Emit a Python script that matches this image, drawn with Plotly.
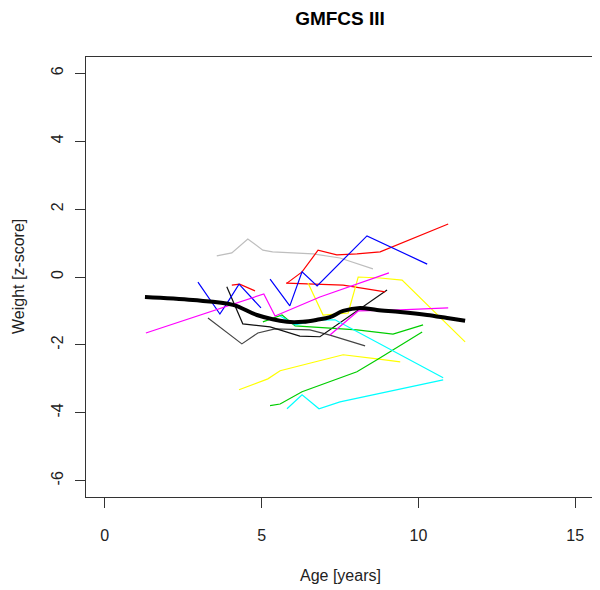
import plotly.graph_objects as go

# ---- data ----
mean_age = [1.28, 2.81, 4.09, 4.85, 5.81, 6.32, 6.77, 7.18, 7.60, 8.14, 8.68, 9.42, 10.28, 10.92, 11.49]
mean_z = [-0.59, -0.68, -0.82, -1.12, -1.32, -1.32, -1.26, -1.18, -1.00, -0.91, -0.97, -1.03, -1.12, -1.21, -1.29]

red1_age = [5.81, 6.29, 6.80, 7.40, 8.04, 8.78, 10.95]
red1_z = [-0.18, 0.15, 0.79, 0.65, 0.68, 0.74, 1.56]
red2_age = [5.78, 7.60, 8.94]
red2_z = [-0.18, -0.24, -0.44]
red3_age = [4.05, 4.30, 4.79]
red3_z = [-0.24, -0.21, -0.41]

blue1_age = [2.97, 3.67, 3.96, 4.28, 4.98]
blue1_z = [-0.15, -1.09, -0.68, -0.21, -0.91]
blue2_age = [5.27, 5.90, 6.29, 6.77, 8.36, 10.28]
blue2_z = [-0.06, -0.85, 0.15, -0.26, 1.21, 0.38]

gray_age = [3.57, 4.05, 4.56, 5.04, 5.35, 6.64, 7.50, 8.55]
gray_z = [0.62, 0.71, 1.12, 0.79, 0.74, 0.68, 0.56, 0.24]

magenta1_age = [1.31, 5.07, 5.43, 6.86, 9.06]
magenta1_z = [-1.65, -0.50, -1.15, -0.59, 0.12]
magenta2_age = [7.18, 8.08, 9.42, 10.95]
magenta2_z = [-1.71, -1.00, -0.97, -0.91]

yellow1_age = [6.48, 6.96, 7.76, 8.08, 8.78, 9.48, 11.49]
yellow1_z = [-0.18, -1.12, -1.06, 0.00, -0.03, -0.09, -1.91]
yellow2_age = [4.28, 5.20, 5.59, 7.60, 8.68, 9.42]
yellow2_z = [-3.32, -3.00, -2.76, -2.29, -2.41, -2.50]

green1_age = [5.27, 5.59, 6.29, 8.04, 8.68, 10.12]
green1_z = [-3.79, -3.74, -3.38, -2.79, -2.44, -1.62]
green2_age = [5.04, 5.65, 6.07, 8.04, 9.19, 10.15]
green2_z = [-1.32, -1.12, -1.44, -1.56, -1.68, -1.41]

cyan1_age = [5.81, 6.29, 6.83, 7.50, 10.79]
cyan1_z = [-3.88, -3.47, -3.88, -3.68, -3.03]
cyan2_age = [5.59, 6.07, 6.86, 7.34, 10.79]
cyan2_z = [-1.15, -1.41, -1.26, -1.26, -2.97]

black1_age = [3.89, 4.40, 5.27, 6.22, 6.86, 9.00]
black1_z = [-0.29, -1.38, -1.47, -1.74, -1.76, -0.38]
black2_age = [3.29, 4.37, 4.88, 5.43, 6.54, 7.18, 8.30]
black2_z = [-1.21, -1.97, -1.65, -1.53, -1.56, -1.71, -2.03]

x_ticks = [0, 5, 10, 15]
y_ticks = [-6, -4, -2, 0, 2, 4, 6]

series = [
    (gray_age, gray_z, "#BEBEBE"),
    (black2_age, black2_z, "#444444"),
    (black1_age, black1_z, "#111111"),
    (red1_age, red1_z, "#FF0000"),
    (red2_age, red2_z, "#FF0000"),
    (red3_age, red3_z, "#FF0000"),
    (blue1_age, blue1_z, "#0000FF"),
    (blue2_age, blue2_z, "#0000FF"),
    (yellow1_age, yellow1_z, "#FFFF00"),
    (yellow2_age, yellow2_z, "#FFFF00"),
    (green1_age, green1_z, "#00CD00"),
    (green2_age, green2_z, "#00CD00"),
    (cyan1_age, cyan1_z, "#00FFFF"),
    (cyan2_age, cyan2_z, "#00FFFF"),
    (magenta1_age, magenta1_z, "#FF00FF"),
    (magenta2_age, magenta2_z, "#FF00FF"),
]

fig = go.Figure()
for xs, ys, c in series:
    fig.add_trace(go.Scatter(x=xs, y=ys, mode="lines",
                             line=dict(color=c, width=1.2), showlegend=False,
                             hoverinfo="skip"))
fig.add_trace(go.Scatter(x=mean_age, y=mean_z, mode="lines",
                         line=dict(color="black", width=4, shape="spline"),
                         showlegend=False, hoverinfo="skip"))

# page body has an 8px margin, so the figure is drawn 8px in from the top-left
W, H = 592, 582
FONT = "Liberation Sans, Arial, sans-serif"
fig.update_layout(
    width=W, height=H,
    margin=dict(l=78, r=6, t=49, b=93),
    paper_bgcolor="white", plot_bgcolor="white",
    font=dict(family=FONT, size=16, color="#222222"),
    title=dict(text="<b>GMFCS III</b>", x=332 / W, xanchor="center",
               y=1 - 10 / H, yanchor="middle",
               font=dict(size=19, family=FONT, color="black")),
    xaxis=dict(range=[-0.6, 15.6], tickvals=x_ticks, ticktext=[str(v) for v in x_ticks],
               showgrid=False, zeroline=False, showline=True, mirror=True,
               linecolor="#333333", linewidth=1, ticks="outside", ticklen=10,
               tickcolor="#333333", ticklabelstandoff=14, automargin=False,
               tickfont=dict(size=16, family=FONT, color="#222222")),
    yaxis=dict(range=[-6.48, 6.48], tickvals=y_ticks, ticktext=[str(v) for v in y_ticks],
               showgrid=False, zeroline=False, showline=True, mirror=True,
               linecolor="#333333", linewidth=1, ticks="outside", ticklen=10,
               tickcolor="#333333", tickangle=-90, ticklabelstandoff=6,
               automargin=False,
               tickfont=dict(size=16, family=FONT, color="#222222")),
    annotations=[
        dict(text="Age [years]", xref="paper", yref="paper", x=0.5,
             y=(497 - 575) / 440, xanchor="center", yanchor="middle",
             showarrow=False, font=dict(size=16, family=FONT, color="#222222")),
        dict(text="Weight [z-score]", xref="paper", yref="paper",
             x=(18 - 86) / 508, y=0.5, xanchor="center", yanchor="middle",
             textangle=-90, showarrow=False,
             font=dict(size=16, family=FONT, color="#222222")),
    ],
)

fig.write_html("out.html")
